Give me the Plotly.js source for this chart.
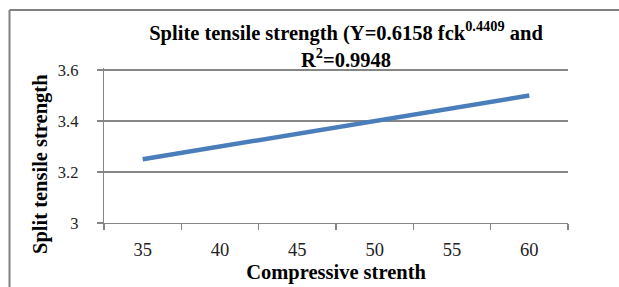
<!DOCTYPE html>
<html>
<head>
<meta charset="utf-8">
<script src="https://cdn.plot.ly/plotly-3.0.1.min.js"></script>
<style>
html,body{margin:0;padding:0;background:#fff;overflow:hidden;}
#chart{width:619px;height:287px;}
</style>
</head>
<body>
<div id="chart"></div>
<script>
const categories = ["35", "40", "45", "50", "55", "60"];
const splitTensile = [3.25, 3.30, 3.35, 3.40, 3.45, 3.50];
const yTicks = [3, 3.2, 3.4, 3.6];
const yTickText = ["3", "3.2", "3.4", "3.6"];

const serif = "Liberation Serif";
const W = 619, H = 287;
const L = 104, R = 51, T = 68, B = 64;
const pw = W - L - R, ph = H - T - B;
const px = v => (v - L) / pw;
const py = v => (H - B - v) / ph;

const trace = {
  x: categories,
  y: splitTensile,
  type: "scatter",
  mode: "lines",
  line: {color: "#4a7ebb", width: 4.5},
  hoverinfo: "skip"
};

const layout = {
  width: W,
  height: H,
  margin: {l: L, r: R, t: T, b: B},
  paper_bgcolor: "#fff",
  plot_bgcolor: "#fff",
  showlegend: false,
  font: {family: serif, size: 16, color: "#222"},
  title: {
    text: "<b>Splite tensile strength (Y=0.6158 fck<sup>0.4409</sup> and<br>R<sup>2</sup>=0.9948</b>",
    font: {family: serif, size: 20.5, color: "#000"},
    x: 346 / W, xanchor: "center", xref: "container",
    y: 1 - 40 / H, yanchor: "top", yref: "container"
  },
  xaxis: {
    type: "category",
    range: [-0.5, 5.5],
    tickson: "boundaries",
    ticks: "outside",
    ticklen: 6,
    tickcolor: "#868686",
    tickwidth: 1.3,
    showline: true,
    linecolor: "#868686",
    linewidth: 1.3,
    showgrid: false,
    zeroline: false,
    tickfont: {family: serif, size: 18.5, color: "#222"},
    ticklabelstandoff: 9,
    title: {text: "<b>Compressive strenth</b>", font: {family: serif, size: 20.5, color: "#000"}, standoff: 6}
  },
  yaxis: {
    range: [3, 3.608],
    tickvals: yTicks,
    ticktext: yTickText,
    ticks: "outside",
    ticklen: 6,
    tickcolor: "#868686",
    tickwidth: 1.3,
    showline: true,
    linecolor: "#868686",
    linewidth: 1.3,
    showgrid: true,
    gridcolor: "#868686",
    gridwidth: 1.3,
    zeroline: false,
    tickfont: {family: serif, size: 16.5, color: "#222"},
    ticklabelstandoff: 15
  },
  annotations: [
    {text: "<b>Split tensile strength</b>", xref: "paper", yref: "paper", x: px(40), y: py(164),
     xanchor: "center", yanchor: "middle", textangle: -90, showarrow: false,
     font: {family: serif, size: 20.5, color: "#000"}}
  ],
  shapes: [
    {type: "line", xref: "paper", yref: "paper", x0: px(9.5), x1: px(625), y0: py(10), y1: py(10),
     line: {color: "#808080", width: 2}, layer: "above"},
    {type: "line", xref: "paper", yref: "paper", x0: px(9.5), x1: px(9.5), y0: py(10), y1: py(290),
     line: {color: "#808080", width: 2}, layer: "above"}
  ]
};

Plotly.newPlot("chart", [trace], layout, {displayModeBar: false, staticPlot: true});
</script>
</body>
</html>
